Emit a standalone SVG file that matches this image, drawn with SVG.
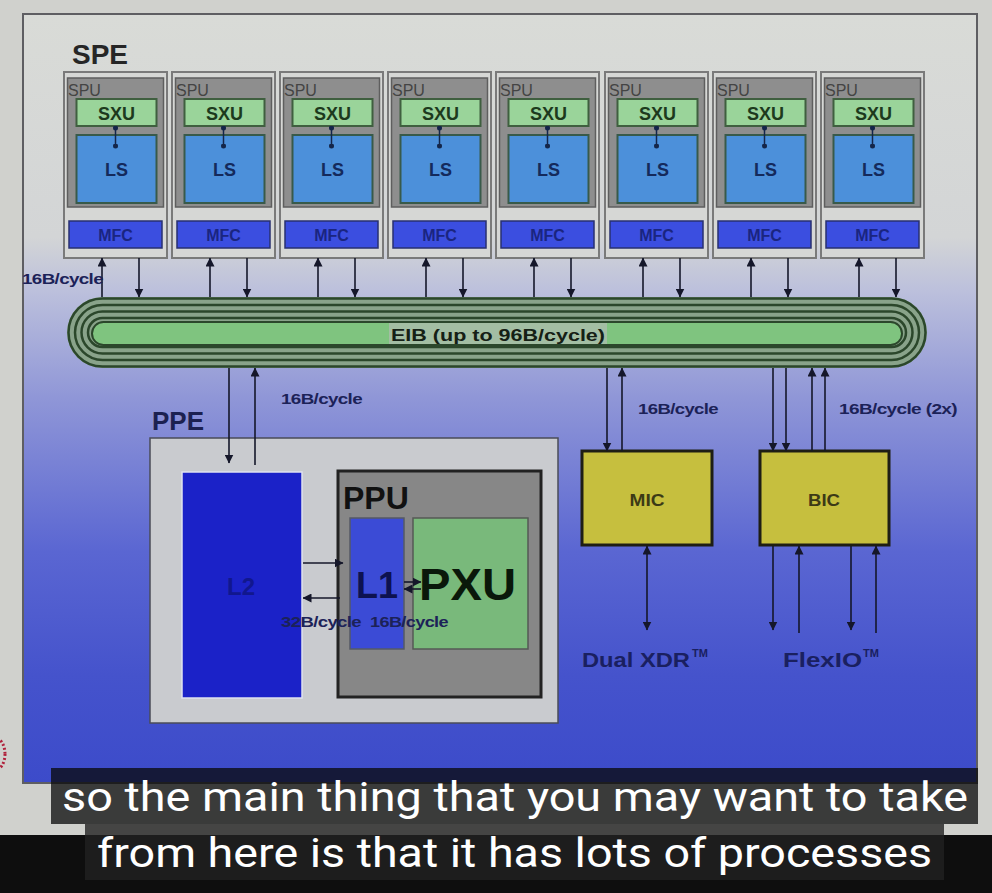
<svg xmlns="http://www.w3.org/2000/svg" width="992" height="893" viewBox="0 0 992 893">
<defs>
<linearGradient id="bg" x1="0" y1="14" x2="0" y2="783" gradientUnits="userSpaceOnUse">
<stop offset="0" stop-color="#d9dbd7"/>
<stop offset="0.29" stop-color="#d3d5d6"/>
<stop offset="0.36" stop-color="#bcc0dc"/>
<stop offset="0.5" stop-color="#8f96d7"/>
<stop offset="0.7" stop-color="#5a66d2"/>
<stop offset="0.86" stop-color="#4553cc"/>
<stop offset="1" stop-color="#3c4bca"/>
</linearGradient>
<marker id="ah" viewBox="0 0 9 9" refX="8.5" refY="4.5" markerWidth="9" markerHeight="9" markerUnits="userSpaceOnUse" orient="auto-start-reverse">
<path d="M0,0 L9,4.5 L0,9 z" fill="#15172a"/>
</marker>
<marker id="dot" viewBox="0 0 6 6" refX="3" refY="3" markerWidth="5" markerHeight="5" markerUnits="userSpaceOnUse">
<circle cx="3" cy="3" r="3" fill="#14264a"/>
</marker>
</defs>
<style>
text{font-family:"Liberation Sans",Arial,sans-serif;font-weight:bold}
.speO{fill:#d6d7d5;stroke:#7a7a7a;stroke-width:2}
.spu{fill:#8e8e8e;stroke:#5e5e5e;stroke-width:1.5}
.spuT{font-weight:normal;font-size:16px;fill:#444}
.sxu{fill:#9ad49a;stroke:#3f5f3f;stroke-width:2}
.sxuT{font-size:18px;fill:#1d3a1d;text-anchor:middle}
.ls{fill:#4c90da;stroke:#385a4a;stroke-width:2}
.lsT{font-size:18px;fill:#142a5c;text-anchor:middle}
.mfc{fill:#3b4ee0;stroke:#283070;stroke-width:1.5}
.mfcT{font-size:16px;fill:#1a2580;text-anchor:middle}
.dl{stroke:#14264a;stroke-width:1.5;marker-start:url(#dot);marker-end:url(#dot)}
.c{stroke:#15172a;stroke-width:1.6;fill:none}
.ae{marker-end:url(#ah)}
.ab{marker-start:url(#ah);marker-end:url(#ah)}
.lbl{font-size:15px;fill:#1c2258;letter-spacing:-0.5px}
.ring{fill:none;stroke:#2b472b;stroke-width:2.5}
.yb{fill:#c6bf3e;stroke:#1e1e14;stroke-width:3}
.ybT{font-size:17px;fill:#3c3a16;text-anchor:middle}
.sub{font-family:Roboto,"Liberation Sans",sans-serif;font-weight:normal;font-size:41px;fill:#ffffff}
</style>
<!-- page -->
<rect x="0" y="0" width="992" height="893" fill="#d0d1cd"/>
<rect x="23" y="14" width="954" height="769" fill="url(#bg)" stroke="#5e5e62" stroke-width="2"/>
<ellipse cx="-5" cy="754" rx="10" ry="16" fill="none" stroke="#b0203a" stroke-width="3" stroke-dasharray="2 2"/>
<rect x="0" y="835" width="992" height="58" fill="#0e0e0e"/>

<text x="72" y="64" font-size="28" fill="#262626">SPE</text>

<g id="spe1" transform="translate(64 0)">
<rect class="speO" x="0" y="72" width="103" height="186"/>
<rect class="spu" x="3.5" y="78" width="96" height="129"/>
<text class="spuT" x="4" y="96">SPU</text>
<rect class="sxu" x="12.5" y="99" width="80" height="27"/>
<text class="sxuT" x="52.5" y="120">SXU</text>
<rect class="ls" x="12.5" y="135" width="80" height="68"/>
<text class="lsT" x="52.5" y="176">LS</text>
<line class="dl" x1="51.5" y1="128" x2="51.5" y2="146"/>
<rect class="mfc" x="5" y="221" width="93" height="27"/>
<text class="mfcT" x="51.5" y="241">MFC</text>
</g>
<g id="spe2" transform="translate(172 0)">
<rect class="speO" x="0" y="72" width="103" height="186"/>
<rect class="spu" x="3.5" y="78" width="96" height="129"/>
<text class="spuT" x="4" y="96">SPU</text>
<rect class="sxu" x="12.5" y="99" width="80" height="27"/>
<text class="sxuT" x="52.5" y="120">SXU</text>
<rect class="ls" x="12.5" y="135" width="80" height="68"/>
<text class="lsT" x="52.5" y="176">LS</text>
<line class="dl" x1="51.5" y1="128" x2="51.5" y2="146"/>
<rect class="mfc" x="5" y="221" width="93" height="27"/>
<text class="mfcT" x="51.5" y="241">MFC</text>
</g>
<g id="spe3" transform="translate(280 0)">
<rect class="speO" x="0" y="72" width="103" height="186"/>
<rect class="spu" x="3.5" y="78" width="96" height="129"/>
<text class="spuT" x="4" y="96">SPU</text>
<rect class="sxu" x="12.5" y="99" width="80" height="27"/>
<text class="sxuT" x="52.5" y="120">SXU</text>
<rect class="ls" x="12.5" y="135" width="80" height="68"/>
<text class="lsT" x="52.5" y="176">LS</text>
<line class="dl" x1="51.5" y1="128" x2="51.5" y2="146"/>
<rect class="mfc" x="5" y="221" width="93" height="27"/>
<text class="mfcT" x="51.5" y="241">MFC</text>
</g>
<g id="spe4" transform="translate(388 0)">
<rect class="speO" x="0" y="72" width="103" height="186"/>
<rect class="spu" x="3.5" y="78" width="96" height="129"/>
<text class="spuT" x="4" y="96">SPU</text>
<rect class="sxu" x="12.5" y="99" width="80" height="27"/>
<text class="sxuT" x="52.5" y="120">SXU</text>
<rect class="ls" x="12.5" y="135" width="80" height="68"/>
<text class="lsT" x="52.5" y="176">LS</text>
<line class="dl" x1="51.5" y1="128" x2="51.5" y2="146"/>
<rect class="mfc" x="5" y="221" width="93" height="27"/>
<text class="mfcT" x="51.5" y="241">MFC</text>
</g>
<g id="spe5" transform="translate(496 0)">
<rect class="speO" x="0" y="72" width="103" height="186"/>
<rect class="spu" x="3.5" y="78" width="96" height="129"/>
<text class="spuT" x="4" y="96">SPU</text>
<rect class="sxu" x="12.5" y="99" width="80" height="27"/>
<text class="sxuT" x="52.5" y="120">SXU</text>
<rect class="ls" x="12.5" y="135" width="80" height="68"/>
<text class="lsT" x="52.5" y="176">LS</text>
<line class="dl" x1="51.5" y1="128" x2="51.5" y2="146"/>
<rect class="mfc" x="5" y="221" width="93" height="27"/>
<text class="mfcT" x="51.5" y="241">MFC</text>
</g>
<g id="spe6" transform="translate(605 0)">
<rect class="speO" x="0" y="72" width="103" height="186"/>
<rect class="spu" x="3.5" y="78" width="96" height="129"/>
<text class="spuT" x="4" y="96">SPU</text>
<rect class="sxu" x="12.5" y="99" width="80" height="27"/>
<text class="sxuT" x="52.5" y="120">SXU</text>
<rect class="ls" x="12.5" y="135" width="80" height="68"/>
<text class="lsT" x="52.5" y="176">LS</text>
<line class="dl" x1="51.5" y1="128" x2="51.5" y2="146"/>
<rect class="mfc" x="5" y="221" width="93" height="27"/>
<text class="mfcT" x="51.5" y="241">MFC</text>
</g>
<g id="spe7" transform="translate(713 0)">
<rect class="speO" x="0" y="72" width="103" height="186"/>
<rect class="spu" x="3.5" y="78" width="96" height="129"/>
<text class="spuT" x="4" y="96">SPU</text>
<rect class="sxu" x="12.5" y="99" width="80" height="27"/>
<text class="sxuT" x="52.5" y="120">SXU</text>
<rect class="ls" x="12.5" y="135" width="80" height="68"/>
<text class="lsT" x="52.5" y="176">LS</text>
<line class="dl" x1="51.5" y1="128" x2="51.5" y2="146"/>
<rect class="mfc" x="5" y="221" width="93" height="27"/>
<text class="mfcT" x="51.5" y="241">MFC</text>
</g>
<g id="spe8" transform="translate(821 0)">
<rect class="speO" x="0" y="72" width="103" height="186"/>
<rect class="spu" x="3.5" y="78" width="96" height="129"/>
<text class="spuT" x="4" y="96">SPU</text>
<rect class="sxu" x="12.5" y="99" width="80" height="27"/>
<text class="sxuT" x="52.5" y="120">SXU</text>
<rect class="ls" x="12.5" y="135" width="80" height="68"/>
<text class="lsT" x="52.5" y="176">LS</text>
<line class="dl" x1="51.5" y1="128" x2="51.5" y2="146"/>
<rect class="mfc" x="5" y="221" width="93" height="27"/>
<text class="mfcT" x="51.5" y="241">MFC</text>
</g>

<g id="eib">
<rect x="67" y="297" width="860" height="71" rx="35.5" fill="#89a38a"/>
<rect class="ring" x="68.5" y="298.5" width="857" height="68" rx="34"/>
<rect class="ring" x="75" y="305" width="844" height="55" rx="27.5"/>
<rect class="ring" x="81.5" y="311.5" width="831" height="42" rx="21"/>
<rect class="ring" x="88" y="318" width="818" height="29" rx="14.5"/>
<rect x="92" y="322" width="810" height="23" rx="11.5" fill="#7fc47f" stroke="#2b472b" stroke-width="2"/>
<rect x="389" y="323" width="218" height="21" fill="#a3bea3"/>
<text x="391" y="341" font-size="17" fill="#152015" textLength="214" lengthAdjust="spacingAndGlyphs">EIB (up to 96B/cycle)</text>
</g>

<g id="ppe">
<text x="152" y="430" font-size="26" fill="#1c2150">PPE</text>
<rect x="150" y="438" width="408" height="285" fill="#c9cbcf" stroke="#4a4c58" stroke-width="1.5"/>
</g>
<g id="l2">
<rect x="182" y="472" width="120" height="226" fill="#1b22c8" stroke="#dfe2ef" stroke-width="1.5"/>
<text x="241" y="595" font-size="24" fill="#11178e" text-anchor="middle">L2</text>
</g>
<g id="ppu">
<rect x="338" y="471" width="203" height="226" fill="#878787" stroke="#222" stroke-width="3"/>
<text x="343" y="509" font-size="32" fill="#111">PPU</text>
</g>
<g id="l1">
<rect x="350" y="518" width="54" height="131" fill="#3b4bd6" stroke="#555a66" stroke-width="1.5"/>
<text x="356" y="598" font-size="36" fill="#0d1250">L1</text>
</g>
<g id="pxu">
<rect x="413" y="518" width="115" height="131" fill="#79b97b" stroke="#555a55" stroke-width="1.5"/>
<text x="419" y="600" font-size="44" fill="#0a180a" textLength="97" lengthAdjust="spacingAndGlyphs">PXU</text>
</g>
<g id="mic">
<rect class="yb" x="582" y="451" width="130" height="94"/>
<text class="ybT" x="647" y="506" textLength="35" lengthAdjust="spacingAndGlyphs">MIC</text>
</g>
<g id="bic">
<rect class="yb" x="760" y="451" width="129" height="94"/>
<text class="ybT" x="824" y="506" textLength="32" lengthAdjust="spacingAndGlyphs">BIC</text>
</g>

<g id="connectors">
<line class="c ae" x1="102" y1="297" x2="102" y2="258"/>
<line class="c ae" x1="139" y1="258" x2="139" y2="297"/>
<line class="c ae" x1="210" y1="297" x2="210" y2="258"/>
<line class="c ae" x1="247" y1="258" x2="247" y2="297"/>
<line class="c ae" x1="318" y1="297" x2="318" y2="258"/>
<line class="c ae" x1="355" y1="258" x2="355" y2="297"/>
<line class="c ae" x1="426" y1="297" x2="426" y2="258"/>
<line class="c ae" x1="463" y1="258" x2="463" y2="297"/>
<line class="c ae" x1="534" y1="297" x2="534" y2="258"/>
<line class="c ae" x1="571" y1="258" x2="571" y2="297"/>
<line class="c ae" x1="643" y1="297" x2="643" y2="258"/>
<line class="c ae" x1="680" y1="258" x2="680" y2="297"/>
<line class="c ae" x1="751" y1="297" x2="751" y2="258"/>
<line class="c ae" x1="788" y1="258" x2="788" y2="297"/>
<line class="c ae" x1="859" y1="297" x2="859" y2="258"/>
<line class="c ae" x1="896" y1="258" x2="896" y2="297"/>
<line class="c ae" x1="229" y1="368" x2="229" y2="463"/>
<line class="c ae" x1="255" y1="465" x2="255" y2="368"/>
<line class="c ae" x1="607" y1="368" x2="607" y2="451"/>
<line class="c ae" x1="622" y1="451" x2="622" y2="368"/>
<line class="c ae" x1="773" y1="368" x2="773" y2="451"/>
<line class="c ae" x1="786" y1="368" x2="786" y2="451"/>
<line class="c ae" x1="812" y1="451" x2="812" y2="368"/>
<line class="c ae" x1="825" y1="451" x2="825" y2="368"/>
<line class="c ab" x1="647" y1="546" x2="647" y2="630"/>
<line class="c ae" x1="773" y1="546" x2="773" y2="630"/>
<line class="c ae" x1="799" y1="633" x2="799" y2="546"/>
<line class="c ae" x1="851" y1="546" x2="851" y2="630"/>
<line class="c ae" x1="876" y1="633" x2="876" y2="546"/>
<line class="c ae" x1="303" y1="563" x2="343" y2="563"/>
<line class="c ae" x1="340" y1="598" x2="303" y2="598"/>
<line class="c ae" x1="404" y1="582" x2="421" y2="582"/>
<line class="c ae" x1="421" y1="589" x2="404" y2="589"/>
</g>

<g id="labels">
<text class="lbl" x="22" y="284" textLength="81" lengthAdjust="spacingAndGlyphs">16B/cycle</text>
<text class="lbl" x="281" y="404" textLength="81" lengthAdjust="spacingAndGlyphs">16B/cycle</text>
<text class="lbl" x="638" y="414" textLength="80" lengthAdjust="spacingAndGlyphs">16B/cycle</text>
<text class="lbl" x="839" y="414" textLength="118" lengthAdjust="spacingAndGlyphs">16B/cycle (2x)</text>
<text class="lbl" x="281" y="627" textLength="80" lengthAdjust="spacingAndGlyphs">32B/cycle</text>
<text class="lbl" x="370" y="627" textLength="78" lengthAdjust="spacingAndGlyphs">16B/cycle</text>
<text x="582" y="667" font-size="21" fill="#1a2060" textLength="108" lengthAdjust="spacingAndGlyphs">Dual XDR</text>
<text x="692" y="657" font-size="11" fill="#1a2060">TM</text>
<text x="783" y="667" font-size="21" fill="#1a2060" textLength="79" lengthAdjust="spacingAndGlyphs">FlexIO</text>
<text x="863" y="657" font-size="11" fill="#1a2060">TM</text>
</g>

<g id="subtitles">
<rect x="51" y="768" width="927" height="56" fill="rgba(8,8,8,0.75)"/>
<rect x="85" y="824" width="859" height="56" fill="rgba(34,34,34,0.8)"/>
<text class="sub" x="62" y="811" textLength="906" lengthAdjust="spacingAndGlyphs">so the main thing that you may want to take</text>
<text class="sub" x="97" y="867" textLength="835" lengthAdjust="spacingAndGlyphs">from here is that it has lots of processes</text>
</g>
</svg>
